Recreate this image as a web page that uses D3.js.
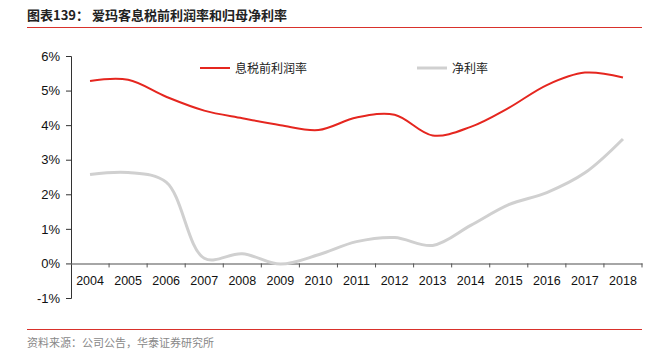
<!DOCTYPE html>
<html lang="zh">
<head>
<meta charset="UTF-8">
<title>爱玛客息税前利润率和归母净利率</title>
<script src="https://cdn.jsdelivr.net/npm/d3@7"></script>
<style>
	body { margin: 0; background: #fff; }
	text { font-family: "Liberation Sans", Arial, sans-serif; }
	.cn { font-family: "Noto Sans CJK SC", sans-serif; }
</style>
</head>
<body>
<svg id="chart" width="669" height="351"></svg>
<script>
	// data
	const years = ["2004","2005","2006","2007","2008","2009","2010","2011","2012","2013","2014","2015","2016","2017","2018"];
	const ebitMargin = [5.28, 5.31, 4.82, 4.42, 4.2, 4.0, 3.86, 4.22, 4.3, 3.7, 3.95, 4.5, 5.16, 5.52, 5.38];
	const netMargin = [2.57, 2.63, 2.35, 0.15, 0.28, -0.02, 0.25, 0.63, 0.75, 0.52, 1.1, 1.7, 2.05, 2.62, 3.6];
	const yTicks = [-1, 0, 1, 2, 3, 4, 5, 6];
	const seriesNames = ["息税前利润率", "净利率"];

	let svg = d3.select("#chart");
	let x0 = 71, x1 = 642, yTop = 56, yBot = 298;

	let x = d3.scaleBand().domain(years).range([x0, x1]);
	let y = d3.scaleLinear().domain([-1, 6]).range([yBot, yTop]);

	// title
	svg.append("text").attr("class", "cn")
		.attr("x", 27).attr("y", 20)
		.attr("font-size", 13).attr("font-weight", "bold").attr("fill", "#222")
		.text("图表139：  爱玛客息税前利润率和归母净利率");
	svg.append("line").attr("x1", 27).attr("x2", 642).attr("y1", 27.5).attr("y2", 27.5)
		.attr("stroke", "#d9312b").attr("stroke-width", 1);

	// y axis
	let yAxis = svg.append("g").attr("transform", `translate(${x0},0)`)
		.call(d3.axisLeft(y).tickValues(yTicks).tickFormat(d => d + "%").tickSize(5).tickPadding(6));
	yAxis.select(".domain").attr("stroke", "#333");
	yAxis.selectAll(".tick line").attr("stroke", "#333");
	yAxis.selectAll("text").attr("font-size", 13).attr("fill", "#111")
		.attr("font-family", "Liberation Sans, Arial, sans-serif");

	// x axis at 0%
	let xAxis = svg.append("g").attr("transform", `translate(0,${y(0)})`)
		.call(d3.axisBottom(x).tickSize(0).tickPadding(13));
	xAxis.select(".domain").attr("stroke", "#888").attr("stroke-width", 1.5);
	xAxis.selectAll("text").attr("font-size", 12.5).attr("fill", "#111")
		.attr("font-family", "Liberation Sans, Arial, sans-serif");
	svg.append("g").selectAll("line")
		.data(years.slice(1).concat(["end"]))
		.join("line")
		.attr("x1", (d, i) => x0 + (i + 1) * x.bandwidth())
		.attr("x2", (d, i) => x0 + (i + 1) * x.bandwidth())
		.attr("y1", y(0)).attr("y2", y(0) + 4)
		.attr("stroke", "#555");

	let line = d3.line()
		.x((d, i) => x(years[i]) + x.bandwidth() / 2)
		.y(d => y(d))
		.curve(d3.curveCatmullRom.alpha(0.5));

	svg.append("path").datum(netMargin)
		.attr("d", line).attr("fill", "none")
		.attr("stroke", "#d0d0d0").attr("stroke-width", 3);
	svg.append("path").datum(ebitMargin)
		.attr("d", line).attr("fill", "none")
		.attr("stroke", "#e5261f").attr("stroke-width", 2);

	// legend
	let legend = [
		{ name: seriesNames[0], color: "#e5261f", w: 2, lx: 200 },
		{ name: seriesNames[1], color: "#d0d0d0", w: 3, lx: 417 }
	];
	legend.forEach(l => {
		svg.append("line").attr("x1", l.lx).attr("x2", l.lx + 30)
			.attr("y1", 68).attr("y2", 68)
			.attr("stroke", l.color).attr("stroke-width", l.w);
		svg.append("text").attr("class", "cn")
			.attr("x", l.lx + 35).attr("y", 72.5)
			.attr("font-size", 12).attr("fill", "#222")
			.text(l.name);
	});

	// footer
	svg.append("line").attr("x1", 27).attr("x2", 642).attr("y1", 329.5).attr("y2", 329.5)
		.attr("stroke", "#d9312b").attr("stroke-width", 1);
	svg.append("text").attr("class", "cn")
		.attr("x", 27).attr("y", 347)
		.attr("font-size", 11).attr("fill", "#888")
		.text("资料来源：公司公告，华泰证券研究所");
</script>
</body>
</html>
